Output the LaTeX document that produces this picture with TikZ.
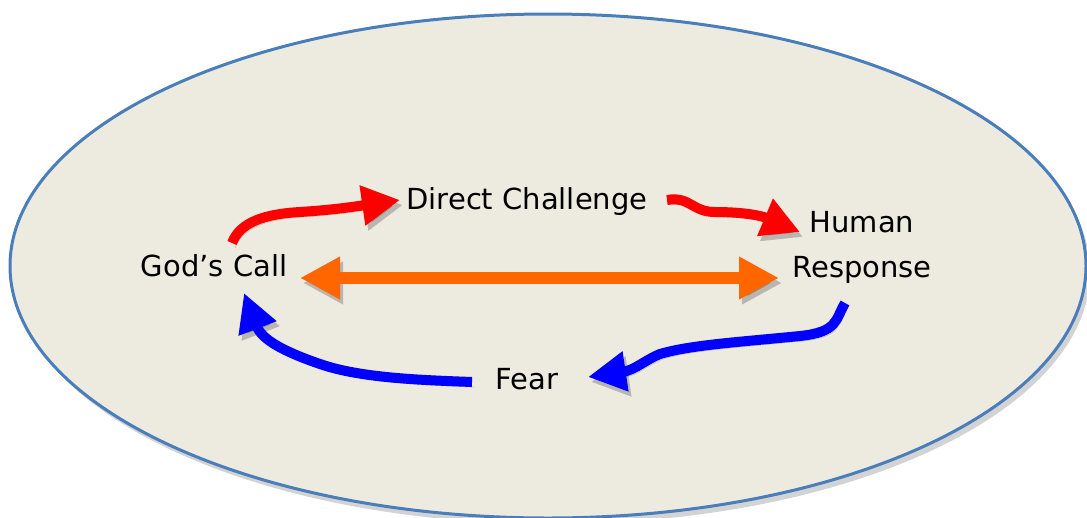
\documentclass[tikz,border=0pt]{standalone}
\usepackage{fontspec}
\setmainfont{DejaVu Sans}
\usepackage{tikz}
\usetikzlibrary{arrows.meta,positioning,shadows,shapes.geometric}
\definecolor{paper}{HTML}{EDEAE0}
\definecolor{rim}{HTML}{4A7EBB}
\definecolor{hot}{HTML}{FF6600}
\tikzstyle{word}=[font=\fontsize{29}{45}\selectfont,align=center,inner sep=1pt]
\tikzstyle{shade}=[preaction={draw=black,opacity=0.22,transform canvas={shift={(3pt,-5pt)}}}]
\tikzstyle{redway}=[draw=red,line width=10pt,-{Triangle[length=38pt,width=38pt]},shade]
\tikzstyle{blueway}=[draw=blue,line width=10pt,-{Triangle[length=38pt,width=38pt]},shade]
\tikzstyle{bothway}=[draw=hot,line width=12pt,{Triangle[length=40pt,width=40pt]}-{Triangle[length=40pt,width=40pt]},shade]

\begin{document}
\begin{tikzpicture}[x=1pt,y=-1pt]
  \useasboundingbox (0,0) rectangle (1087,517);

  % the field
  \node[ellipse,minimum width=1076pt,minimum height=504pt,fill=paper,draw=rim,line width=3pt,
        drop shadow={shadow xshift=4pt,shadow yshift=-6pt,opacity=0.35}] (field) at (548,266) {};

  \node[word] (call)  at (214,266) {God’s Call};
  \node[word] (dc)    at (527,201) {Direct Challenge};
  \node[word] (resp)  at (862,247) {Human\\Response};
  \node[word] (fear)  at (527,379) {Fear};

  \path[redway] ([shift={(18,-23)}]call.center) .. controls (240,222) and (265,214) .. (300,212)
        .. controls (330,210) and (345,208) .. ([shift={(-127,-1)}]dc.center);
  \path[redway] ([shift={(140,-1)}]dc.center) .. controls (690,196) and (692,212) .. (715,212)
        .. controls (745,212) and (762,216) .. ([shift={(-62,-15)}]resp.center);
  \path[bothway] ([shift={(86,12)}]call.center) -- ([shift={(-83,31)}]resp.center);
  \path[blueway] ([shift={(-17,56)}]resp.center) .. controls (835,320) and (838,332) .. (800,336)
        .. controls (740,342) and (690,345) .. (660,354)
        .. controls (645,360) and (635,370) .. ([shift={(61,-2)}]fear.center);
  \path[blueway] ([shift={(-55,3)}]fear.center) .. controls (420,380) and (360,378) .. (320,364)
        .. controls (285,352) and (262,340) .. ([shift={(30,27)}]call.center);
\end{tikzpicture}
\end{document}
